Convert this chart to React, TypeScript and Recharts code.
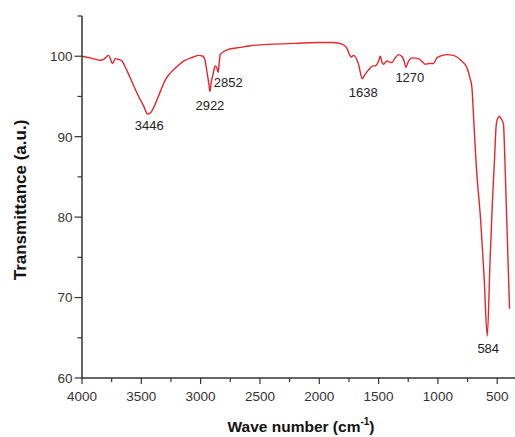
import { LineChart, Line, XAxis, YAxis, ReferenceDot, Label } from "recharts";

// FTIR spectrum
const waveNumbers = [
  4000, 3930, 3846, 3818, 3776, 3742, 3719, 3691, 3663, 3630, 3593, 3523, 3480, 3446, 3420, 3397,
  3340, 3300, 3256, 3200, 3144, 3060, 3017, 2980, 2960, 2947, 2930, 2922, 2910, 2896, 2877, 2865,
  2852, 2843, 2835, 2778, 2666, 2582, 2400, 2200, 2000, 1882, 1809, 1767, 1745, 1730, 1711, 1669,
  1638, 1620, 1585, 1548, 1528, 1500, 1486, 1470, 1458, 1430, 1410, 1388, 1360, 1332, 1300, 1285,
  1270, 1250, 1219, 1163, 1130, 1107, 1070, 1037, 1008, 960, 924, 870, 840, 800, 756, 730,
  713, 700, 677, 640, 610, 584, 560, 540, 523, 508, 495, 481, 465, 447, 435, 396,
];
const transmittance = [
  100.0, 99.8, 99.5, 99.6, 100.1, 99.1, 99.7, 99.6, 99.4, 98.5, 97.3, 95.0, 93.8, 92.8, 93.0, 93.6,
  95.6, 97.0, 97.9, 98.7, 99.4, 99.9, 100.1, 100.0, 99.3, 98.1, 96.5, 95.6, 96.8, 97.7, 98.8, 98.6,
  98.0, 99.2, 100.2, 100.8, 101.1, 101.3, 101.5, 101.6, 101.7, 101.7, 101.5, 101.0, 100.2, 99.9, 100.1, 99.0,
  97.2, 97.6, 98.3, 98.8, 98.8, 99.4, 100.0, 99.2, 99.0, 99.4, 99.3, 99.2, 99.8, 100.2, 99.9, 99.4,
  98.6, 99.3, 99.8, 99.7, 99.3, 99.0, 99.1, 99.1, 99.8, 100.1, 100.2, 100.1, 99.9, 99.4, 98.6, 97.3,
  96.1, 92.7, 86.5, 79.7, 72.5, 65.2, 74.7, 82.0, 87.1, 91.5, 92.3, 92.5, 92.2, 91.5, 87.0, 68.6,
];

const xTicks = [4000, 3750, 3500, 3250, 3000, 2750, 2500, 2250, 2000, 1750, 1500, 1250, 1000, 750, 500];
const yTicks = [60, 65, 70, 75, 80, 85, 90, 95, 100, 105];

const peaks = [3446, 2922, 2852, 1638, 1270, 584];
// label offset from the peak point (px)
const peakOffsets = [
  [1.5, 16],
  [0, 18],
  [10, 15],
  [1, 18],
  [4, 15],
  [1, 17],
];

const data = waveNumbers.map((w, i) => ({ w, t: transmittance[i] }));

const FONT = "'Liberation Sans', Arial, sans-serif";
const AXIS = "#333";

const XTick = (props: any) => {
  const { x, y, payload } = props;
  const major = payload.value % 500 === 0;
  return (
    <g>
      <line x1={x} y1={y} x2={x} y2={y + (major ? 6 : 4)} stroke={AXIS} strokeWidth={1.2} />
      {major && (
        <text x={x} y={y + 23} textAnchor="middle" fontSize={13.5} fill="#333" fontFamily={FONT}>
          {payload.value}
        </text>
      )}
    </g>
  );
};

const YTick = (props: any) => {
  const { x, y, payload } = props;
  const major = payload.value % 10 === 0;
  return (
    <g>
      <line x1={x} y1={y} x2={x - (major ? 7.5 : 4.5)} y2={y} stroke={AXIS} strokeWidth={1.2} />
      {major && (
        <text x={x - 9.5} y={y} dy="0.36em" textAnchor="end" fontSize={13.5} fill="#333" fontFamily={FONT}>
          {payload.value}
        </text>
      )}
    </g>
  );
};

export default function App() {
  return (
    <div style={{ position: "absolute", left: 0, top: 0, background: "#fff" }}>
      <LineChart width={515} height={437} data={data} margin={{ top: 16, right: 0, bottom: 29, left: 0 }}>
        <XAxis
          dataKey="w"
          type="number"
          domain={[350, 4000]}
          reversed
          ticks={xTicks}
          interval={0}
          tick={<XTick />}
          tickLine={false}
          tickSize={0}
          tickMargin={0}
          height={30}
          axisLine={{ stroke: AXIS, strokeWidth: 1.5 }}
          allowDataOverflow
        >
          <Label
            content={(p: any) => (
              <text
                x={p.viewBox.x + p.viewBox.width / 2 + 2.5}
                y={p.viewBox.y + 54}
                textAnchor="middle"
                fontSize={15.5}
                fontWeight="bold"
                fill="#111"
                fontFamily={FONT}
              >
                Wave number (cm
                <tspan fontSize={10} dy={-7}>-1</tspan>
                <tspan dy={7}>)</tspan>
              </text>
            )}
          />
        </XAxis>
        <YAxis
          type="number"
          domain={[60, 105]}
          ticks={yTicks}
          interval={0}
          tick={<YTick />}
          tickLine={false}
          tickSize={0}
          tickMargin={0}
          width={82}
          axisLine={{ stroke: AXIS, strokeWidth: 1.5 }}
        >
          <Label
            content={(p: any) => (
              <text
                x={26}
                y={200}
                transform="rotate(-90 26 200)"
                textAnchor="middle"
                fontSize={17}
                fontWeight="bold"
                fill="#111"
                fontFamily={FONT}
              >
                Transmittance (a.u.)
              </text>
            )}
          />
        </YAxis>
        <Line
          type="monotone"
          dataKey="t"
          stroke="#e4252c"
          strokeWidth={1.4}
          dot={false}
          isAnimationActive={false}
        />
        {peaks.map((w, i) => {
          const t = transmittance[waveNumbers.indexOf(w)];
          const [dx, dy] = peakOffsets[i];
          return (
            <ReferenceDot
              key={w}
              x={w}
              y={t}
              r={0}
              ifOverflow="visible"
              shape={(s: any) => (
                <text
                  x={s.cx + dx}
                  y={s.cy + dy}
                  textAnchor="middle"
                  fontSize={13}
                  fill="#222"
                  fontFamily={FONT}
                >
                  {w}
                </text>
              )}
            />
          );
        })}
      </LineChart>
    </div>
  );
}
